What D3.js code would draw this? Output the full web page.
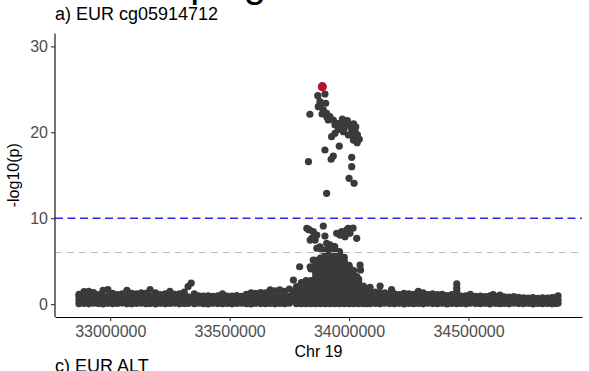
<!DOCTYPE html>
<html>
<head>
<meta charset="utf-8">
<script src="https://cdn.jsdelivr.net/npm/d3@7"></script>
<style>
  html, body { margin: 0; padding: 0; background: #fff; }
  svg { display: block; font-family: "Liberation Sans", Arial, Helvetica, sans-serif; }
</style>
</head>
<body>
<svg id="chart" width="589" height="371"></svg>
<script>
// ---- data: position (kb on chr19) and -log10(p) values ----
// flanking SNPs: [position kb, [-log10 p values at that locus]]
const flankLeft = [
  [32869,[0.05,0.5,0.92,1.15]],[32890,[0.08,0.45,0.88,1.45]],[32910,[0.03,0.52,0.95,1.5]],
  [32930,[0.1,0.41,0.85,1.35]],[32950,[0.06,0.48,0.9,1.1]],[32970,[0.02,0.44,0.87,1.6]],
  [32990,[0.09,0.53,0.93,1.7]],[33010,[0.04,0.46,0.86,1.25]],[33030,[0.07,0.5,0.91,1.1]],
  [33050,[0.12,0.43,0.84,1.2]],[33070,[0.05,0.49,0.95,1.6]],[33090,[0.03,0.55,0.88,1.25]],
  [33110,[0.08,0.4,0.9,1.2]],[33130,[0.1,0.47,0.86,1.3]],[33150,[0.04,0.51,0.92,1.25]],
  [33167,[0.06,0.45,0.89,1.7]],[33190,[0.02,0.52,0.94,1.3]],[33210,[0.09,0.44,0.85,1.1]],
  [33230,[0.05,0.5,0.9,1.2]],[33250,[0.07,0.42,0.87,1.5]],[33270,[0.11,0.48,0.93,1.15]],
  [33290,[0.03,0.53,0.88,1.2]],[33310,[0.06,0.46,0.91,1.4]],[33326,[0.08,0.5,0.86,2.05]],
  [33339,[0.45,2.45]],[33352,[0.04,0.44,0.9,1.2]],[33370,[0.1,0.49,0.95]],
  [33390,[0.05,0.52,0.92]],[33410,[0.02,0.45,0.97]],[33430,[0.09,0.5,0.9]],
  [33450,[0.06,0.43,0.96]],[33470,[0.04,0.51,0.88,1.2]],[33490,[0.08,0.47,0.94]],
  [33510,[0.03,0.53,0.92]],[33530,[0.07,0.44,0.98]],[33550,[0.1,0.5,0.9]],
  [33570,[0.05,0.46,0.93,1.15]],[33590,[0.02,0.52,0.89,1.3]],[33610,[0.09,0.43,0.91,1.25]],
  [33630,[0.06,0.49,0.87,1.35]],[33650,[0.04,0.54,0.94,1.3]],[33670,[0.08,0.45,0.9,1.65]],
  [33690,[0.03,0.5,0.92,1.55]],[33710,[0.07,0.47,0.88,1.65]],[33730,[0.05,0.52,0.95,1.5]],
  [33750,[0.1,0.44,0.9,1.75]],[33767,[0.5,1.4,2.8]]
];

const peakBase = [
  [33780,[0.05,0.5,0.95,1.4,1.85,2.05]],
  [33793,[4.35]],
  [33800,[0.05,0.5,0.95,1.4,1.85,2.3,2.5]],
  [33820,[0.05,0.5,0.95,1.4,1.85,2.3,2.75]],
  [33840,[0.05,0.5,0.95,1.4,1.85,2.3,2.75,4.1]],
  [33860,[0.05,0.5,0.95,1.4,1.85,2.3,2.75,3.2,3.65,4.55,5.1]],
  [33880,[0.05,0.5,0.95,1.4,1.85,2.3,2.75,3.2,3.65,4.1,5.0,5.35]],
  [33900,[0.05,0.5,0.95,1.4,1.85,2.3,2.75,3.2,3.65,4.1,4.55,5.0,5.45,5.9,6.3]],
  [33920,[0.05,0.5,0.95,1.4,1.85,2.3,2.75,3.2,3.65,4.1,4.55,5.0,5.45,5.9,6.35,6.9]],
  [33940,[0.05,0.5,0.95,1.4,1.85,2.3,2.75,3.2,3.65,4.1,4.55,5.0,5.45,5.9,6.35,6.7]],
  [33960,[0.05,0.5,0.95,1.4,1.85,2.3,2.75,3.2,3.65,4.1,4.55,5.0,5.45,5.9,6.1]],
  [33980,[0.05,0.5,0.95,1.4,1.85,2.3,2.75,3.2,3.65,4.1,4.55,5.0,5.45]],
  [34000,[0.05,0.5,0.95,1.4,1.85,2.3,2.75,3.2,3.65,4.1,4.5]],
  [34020,[0.05,0.5,0.95,1.4,1.85,2.3,2.75,3.2,3.9]],
  [34040,[0.05,0.5,0.95,1.4,1.85,2.3,2.75,2.9]],
  [34060,[0.05,0.5,0.95,1.4,1.85,2.1]],
  [34075,[0.05,0.5,0.95,1.4,1.8]]
];

const flankRight = [
  [34088,[0.05,0.5,0.92,1.4,1.95]],[34110,[0.08,0.45,0.88,1.4]],[34130,[0.03,0.52,0.95,1.35,2.1]],
  [34150,[0.1,0.47,0.9,1.3]],[34170,[0.06,0.5,0.86,1.2]],[34178,[1.7]],
  [34190,[0.04,0.44,0.93,1.2]],[34210,[0.09,0.51,0.89,1.1]],[34230,[0.02,0.46,0.94,1.25]],
  [34250,[0.07,0.53,0.87,1.2]],[34270,[0.05,0.42,0.91,1.15]],[34290,[0.08,0.49,0.96,1.5]],
  [34310,[0.03,0.45,0.88,1.3]],[34330,[0.1,0.52,0.92,1.1]],[34350,[0.06,0.47,0.9,1.2]],
  [34370,[0.04,0.5,0.86,1.1]],[34390,[0.09,0.43,0.93,1.15]],[34410,[0.02,0.51,0.89,1.0]],
  [34430,[0.07,0.46,0.94,1.1]],[34451,[0.05,0.5,0.9,1.5,1.85,2.35]],[34470,[0.08,0.44,0.92]],
  [34490,[0.03,0.49,0.95]],[34508,[0.1,0.52,0.88,1.15]],[34530,[0.06,0.45,0.9]],
  [34550,[0.04,0.5,0.93]],[34570,[0.09,0.47,0.87]],[34590,[0.02,0.53,0.95]],
  [34603,[0.5,1.12]],[34615,[0.07,0.44,0.91]],[34632,[0.05,0.5,0.89,1.05]],
  [34650,[0.08,0.46,0.86]],[34670,[0.03,0.51,0.82]],[34690,[0.1,0.43,0.88]],
  [34710,[0.06,0.49,0.8]],[34730,[0.04,0.45,0.74]],[34750,[0.09,0.5,0.7]],
  [34770,[0.02,0.42,0.75]],[34790,[0.07,0.47,0.68]],[34810,[0.05,0.44,0.72]],
  [34830,[0.08,0.5,0.7]],[34850,[0.03,0.46,0.76]],[34865,[0.06,0.5,0.8]],
  [34875,[0.1,0.5,0.95]]
];

// individual SNPs in the associated region: [position kb, -log10 p]
const peakSnps = [
  [33823,8.82],[33829,8.71],[33834,8.63],[33850,8.43],[33865,8.04],[33844,7.66],[33858,7.46],
  [33837,7.46],[33892,9.09],[33899,7.93],[33878,6.68],[33886,6.3],[33865,6.5],[33906,7.08],
  [33920,6.5],[33934,6.68],[33948,8.24],[33969,8.43],[33990,8.63],[33997,8.82],[34004,8.24],
  [34017,8.86],[33983,7.85],[34032,7.66],[33962,8.04],[33927,6.1],[33941,5.91],[33962,5.52],
  [33969,5.13],[33850,5.13],[33865,4.94],[33837,4.35],[33858,3.97],[33871,4.55],[33892,5.33],
  [33899,4.94],[34004,4.17],[34011,3.77],[34046,4.55],[34048,3.97],[33990,2.81],[34032,3.19],
  [33869,24.26],[33899,24.46],[33878,23.56],[33902,23.38],[33836,22.1],[33871,22.98],
  [33876,23.06],[33892,22.6],[33887,22.13],[33906,22.21],[33920,21.82],[33907,21.78],
  [33913,21.43],[33934,21.43],[33948,21.05],[33941,20.85],[33969,21.05],[33972,21.55],
  [33990,21.12],[33993,21.37],[34004,20.85],[34011,20.35],[34019,20.97],[34025,20.07],
  [34028,20.62],[34035,19.69],[34043,19.18],[34034,18.79],[34018,19.1],[34014,19.69],
  [33997,19.69],[33980,20.5],[33976,20.07],[33955,20.35],[33941,19.88],[33927,19.49],
  [33959,18.4],[33899,17.94],[33934,17.24],[33925,16.86],[34011,17.09],[34011,16.0],
  [33830,16.58],[34000,14.64],[34021,14.06],[33906,12.9]
];

// lead CpG-associated SNP
const leadSnp = [33888, 25.31];

const xTicks = [33000000, 33500000, 34000000, 34500000];
const yTicks = [0, 10, 20, 30];
const yLimits = [0, 30];
const thresholds = [10, 6];          // -log10(p) reference lines
const thresholdColors = ["#2b2bf0", "#bdbdbd"];

// ---- layout ----
const panel = { left: 55, right: 582, top: 33.5, bottom: 317 };
const svg = d3.select("#chart");

const snps = [];
[flankLeft, peakBase, flankRight].forEach(set =>
  set.forEach(([kb, vals]) => vals.forEach(v => snps.push({ bp: kb * 1000, logp: v }))));
peakSnps.forEach(([kb, v]) => snps.push({ bp: kb * 1000, logp: v }));
const lead = { bp: leadSnp[0] * 1000, logp: leadSnp[1] };

const [minBp, maxBp] = d3.extent(snps.concat([lead]), d => d.bp);
const xPad = (maxBp - minBp) * 0.05;
const x = d3.scaleLinear().domain([minBp - xPad, maxBp + xPad]).range([panel.left, panel.right]);
const yPad = (yLimits[1] - yLimits[0]) * 0.05;
const y = d3.scaleLinear().domain([yLimits[0] - yPad, yLimits[1] + yPad]).range([panel.bottom, panel.top]);

// figure title (runs off the top edge) and panel titles
svg.append("text").attr("x", 266).attr("y", -3).attr("text-anchor", "end")
  .attr("font-size", 40).attr("fill", "#000").text("LD clumping");
svg.append("text").attr("x", 55).attr("y", 19.5).attr("font-size", 18).attr("fill", "#000")
  .text("a) EUR cg05914712");
svg.append("text").attr("x", 55).attr("y", 371.5).attr("font-size", 18).attr("fill", "#000")
  .text("c) EUR ALT");

// points
svg.append("g").selectAll("circle").data(snps).join("circle")
  .attr("cx", d => x(d.bp)).attr("cy", d => y(d.logp)).attr("r", 3.6)
  .attr("fill", "#3a3a3a");

// threshold lines
svg.append("g").selectAll("line").data(thresholds).join("line")
  .attr("x1", panel.left).attr("x2", panel.right)
  .attr("y1", d => y(d)).attr("y2", d => y(d))
  .attr("stroke", (d, i) => thresholdColors[i]).attr("stroke-width", (d, i) => i === 0 ? 1.5 : 1.1)
  .attr("stroke-dasharray", (d, i) => i === 0 ? "8,4.5" : "7,5");

// lead point on top
svg.append("circle").attr("cx", x(lead.bp)).attr("cy", y(lead.logp)).attr("r", 4.6)
  .attr("fill", "#b5122c");

// axes
const xAxis = d3.axisBottom(x).tickValues(xTicks).tickFormat(d3.format("d"))
  .tickSize(4).tickSizeOuter(0).tickPadding(5);
const gx = svg.append("g").attr("transform", `translate(0,${panel.bottom})`).call(xAxis);
const yAxis = d3.axisLeft(y).tickValues(yTicks).tickSize(4).tickSizeOuter(0).tickPadding(3);
const gy = svg.append("g").attr("transform", `translate(${panel.left},0)`).call(yAxis);

[gx, gy].forEach(g => {
  g.select(".domain").attr("stroke", "#000").attr("stroke-width", 1.1);
  g.selectAll(".tick line").attr("stroke", "#333").attr("stroke-width", 1.1);
  g.selectAll(".tick text").attr("fill", "#4d4d4d").attr("font-size", 16)
    .attr("font-family", "'Liberation Sans', Arial, Helvetica, sans-serif");
});
// keep the y axis line spanning the full panel height
gy.select(".domain").attr("d", `M0,${panel.top}V${panel.bottom}`);

// axis titles
svg.append("text").attr("x", (panel.left + panel.right) / 2).attr("y", 357)
  .attr("text-anchor", "middle").attr("font-size", 16).attr("fill", "#000").text("Chr 19");
svg.append("text").attr("transform", `translate(18.5,${(panel.top + panel.bottom) / 2}) rotate(-90)`)
  .attr("text-anchor", "middle").attr("font-size", 16).attr("fill", "#000").text("-log10(p)");
</script>
</body>
</html>
